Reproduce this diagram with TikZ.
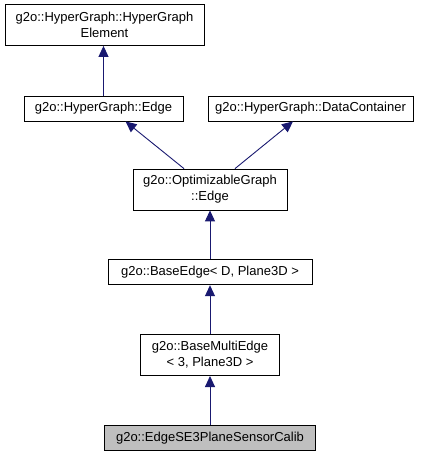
\documentclass[tikz,border=0pt]{standalone}
\usepackage{fontspec}
\setmainfont{Liberation Sans}
\usepackage{xcolor}
\usepackage{tikz}
\usetikzlibrary{positioning,arrows.meta}

\definecolor{edgeblue}{HTML}{191970}
\definecolor{curgray}{HTML}{BFBFBF}

\begin{document}
\begin{tikzpicture}[
        x = 1pt, y = 1pt,
        node distance = 49pt,
        font = \fontsize{13pt}{16pt}\selectfont,
    ]
    \tikzstyle{classnode} = [rectangle, draw=black, line width=0.8pt, fill=white, align=center, inner xsep=0pt, minimum height=25pt];
    \tikzstyle{twoline} = [minimum height=41pt];
    \tikzstyle{inherit} = [draw=edgeblue, line width=0.9pt, {Triangle[length=11pt, width=10pt]}-];
    \useasboundingbox (0,0) rectangle (427,-455);
    \node [classnode, twoline, minimum width=199pt] (hgelem) at (104.5,-25) {g2o::HyperGraph::HyperGraph\\Element};
    \node [classnode, minimum width=159pt] (hgedge) at (103.5,-108.5) {g2o::HyperGraph::Edge};
    \node [classnode, minimum width=205pt] (hgdata) at (310.5,-108.5) {g2o::HyperGraph::DataContainer};
    \node [classnode, twoline, minimum width=154pt] (optedge) at (210,-189.5) {g2o::OptimizableGraph\\::Edge};
    \node [classnode, minimum width=204pt, below = of optedge] (baseedge) {g2o::BaseEdge< D, Plane3D >};
    \node [classnode, twoline, minimum width=139pt, below = of baseedge] (multiedge) {g2o::BaseMultiEdge\\< 3, Plane3D >};
    \node [classnode, fill=curgray, minimum width=211pt, below = of multiedge] (calib) {g2o::EdgeSE3PlaneSensorCalib};
    \draw [inherit] (hgelem.south -| hgedge.north) -- (hgedge.north);
    \draw [inherit] ([xshift=22pt]hgedge.south) -- ([xshift=-26pt]optedge.north);
    \draw [inherit] ([xshift=-17.5pt]hgdata.south) -- ([xshift=25pt]optedge.north);
    \draw [inherit] (optedge.south) -- (baseedge.north);
    \draw [inherit] (baseedge.south) -- (multiedge.north);
    \draw [inherit] (multiedge.south) -- (calib.north);
    \end{tikzpicture}
\end{document}
